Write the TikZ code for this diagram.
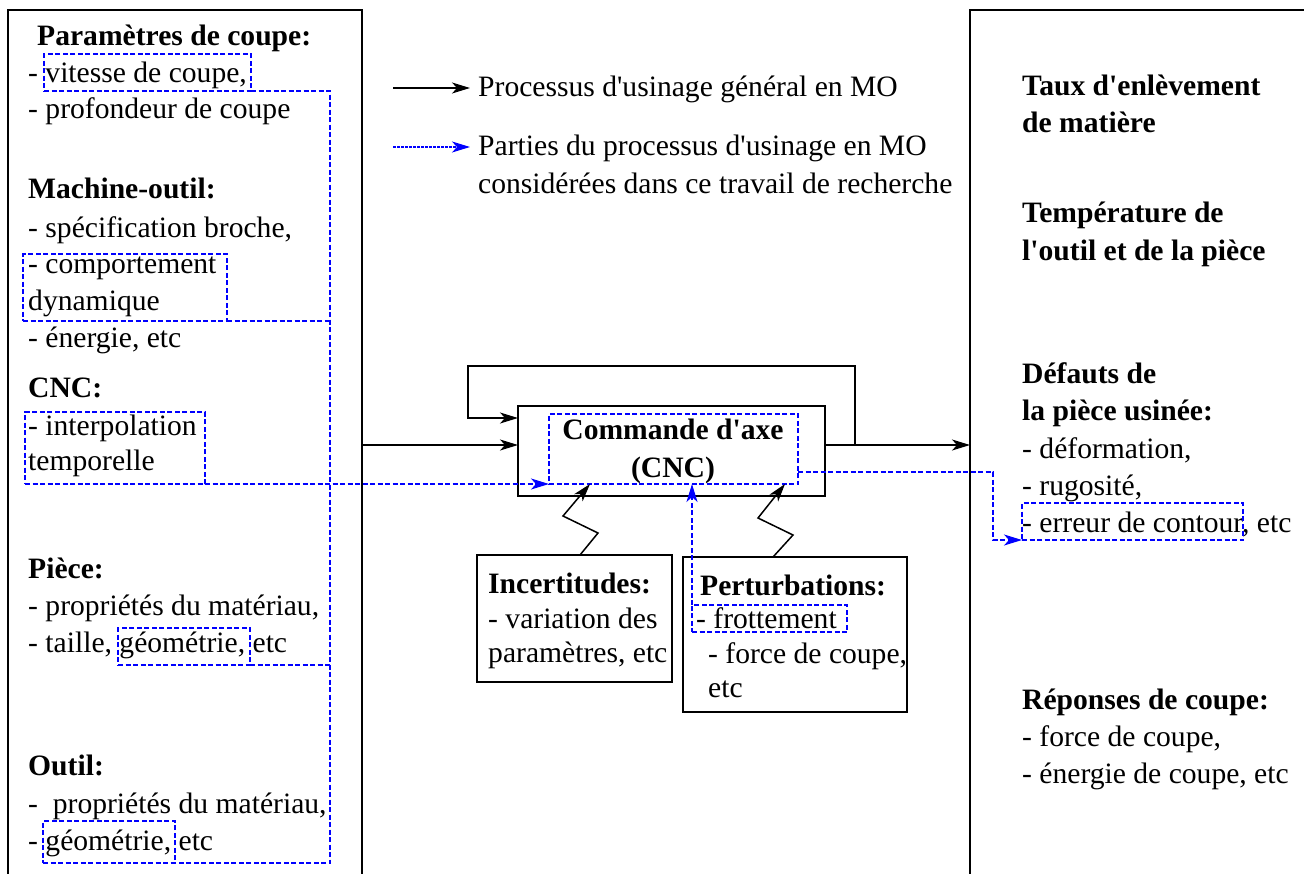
\documentclass[tikz,border=0pt]{standalone}
\usepackage{fontspec}
\setmainfont{Liberation Serif}
\usetikzlibrary{arrows.meta}
\newcommand{\fsz}{\fontsize{29.6}{37}\selectfont}
\newcommand{\aq}{\textquotesingle}
\begin{document}
\begin{tikzpicture}[x=1pt,y=-1pt,
  txt/.style={anchor=base west,inner sep=0pt,font=\fsz},
  btxt/.style={anchor=base west,inner sep=0pt,font=\fsz\bfseries},
  frame/.style={draw=black,line width=2pt,inner sep=0pt,outer sep=0pt,anchor=north west},
  conn/.style={draw=black,line width=1.5pt},
  arr/.style={-{Stealth[length=18pt,width=11pt,inset=5pt]}},
  bdash/.style={draw=blue,line width=1.8pt,dash pattern=on 5pt off 2.5pt},
  bbox/.style={bdash,inner sep=0pt,outer sep=0pt,anchor=north west},
]
\useasboundingbox (0,0) rectangle (1304,873);
\clip (0,0) rectangle (1304,873);

% big frames
\node[frame,minimum width=354pt,minimum height=900pt] (lb) at (8,10) {};
\node[frame,minimum width=400pt,minimum height=900pt] (rb) at (970,10) {};

% left column text
\node[btxt] (p0) at (37,45) {Paramètres de coupe:};
\node[txt] (p1) at (28,82) {- vitesse de coupe,};
\node[txt] (p2) at (28,118) {- profondeur de coupe};
\node[btxt] (m0) at (28,198) {Machine-outil:};
\node[txt] (m1) at (28,237) {- spécification broche,};
\node[txt] (m2) at (28,273) {- comportement};
\node[txt] (m3) at (28,310) {dynamique};
\node[txt] (m4) at (28,347) {- énergie, etc};
\node[btxt] (c0) at (28,397) {CNC:};
\node[txt] (c1) at (28,435) {- interpolation};
\node[txt] (c2) at (28,470) {temporelle};
\node[btxt] (pi0) at (28,578) {Pièce:};
\node[txt] (pi1) at (28,615) {- propriétés du matériau,};
\node[txt] (pi2) at (28,652) {- taille, géométrie, etc};
\node[btxt] (o0) at (28,775) {Outil:};
\node[txt] (o1) at (28,813) {-\ \ propriétés du matériau,};
\node[txt] (o2) at (28,850) {- géométrie, etc};

% legend
\coordinate (la1) at (393,88);
\coordinate (la2) at (470,88);
\coordinate (lb1) at (393,147);
\coordinate (lb2) at (470,147);
\draw[conn,arr] (la1) -- (la2);
\draw[draw=blue,line width=1.3pt,dash pattern=on 2.5pt off 1.5pt,arr] (lb1) -- (lb2);
\node[txt] (lt1) at (478,96) {Processus d\aq usinage général en MO};
\node[txt] (lt2) at (478,155) {Parties du processus d\aq usinage en MO};
\node[txt] (lt3) at (478,193) {considérées dans ce travail de recherche};

% right column text
\node[btxt] (r1) at (1022,95) {Taux d\aq enlèvement};
\node[btxt] (r2) at (1022,132) {de matière};
\node[btxt] (r3) at (1022,222) {Température de};
\node[btxt] (r4) at (1022,260) {l\aq outil et de la pièce};
\node[btxt] (r5) at (1022,383) {Défauts de};
\node[btxt] (r6) at (1022,420) {la pièce usinée:};
\node[txt] (r7) at (1022,458) {- déformation,};
\node[txt] (r8) at (1022,495) {- rugosité,};
\node[txt] (r9) at (1022,532) {- erreur de contour, etc};
\node[btxt] (r10) at (1022,709) {Réponses de coupe:};
\node[txt] (r11) at (1022,746) {- force de coupe,};
\node[txt] (r12) at (1022,783) {- énergie de coupe, etc};

% central block
\node[frame,minimum width=307pt,minimum height=90pt] (cb) at (518,406) {};
\node[bbox,minimum width=249pt,minimum height=70pt] (ib) at (549,414) {};
\node[btxt,anchor=base] (ct1) at (673,439) {Commande d\aq axe};
\node[btxt,anchor=base] (ct2) at (673,477) {(CNC)};

% lower boxes
\node[frame,minimum width=195pt,minimum height=127pt] (inc) at (477,555) {};
\node[btxt] (i0) at (488,593) {Incertitudes:};
\node[txt] (i1) at (488,628) {- variation des};
\node[txt] (i2) at (488,662) {paramètres, etc};
\node[frame,minimum width=224pt,minimum height=155pt] (pb) at (683,557) {};
\node[btxt] (q0) at (700,595) {Perturbations:};
\node[txt] (q1) at (696,628) {- frottement};
\node[txt] (q2) at (708,663) {- force de coupe,};
\node[txt] (q3) at (708,697) {etc};

% blue dotted boxes
\node[bbox,minimum width=207pt,minimum height=37pt] (b1) at (44,54) {};
\node[bbox,minimum width=204pt,minimum height=67pt] (b2) at (23,254) {};
\node[bbox,minimum width=180pt,minimum height=72pt] (b3) at (25,412) {};
\node[bbox,minimum width=132pt,minimum height=37pt] (b4) at (118,628) {};
\node[bbox,minimum width=132pt,minimum height=42pt] (b5) at (43,821) {};
\node[bbox,minimum width=155pt,minimum height=27pt] (fb) at (692,605) {};
\node[bbox,minimum width=221pt,minimum height=37pt] (eb) at (1022,503) {};

% black connectors
\coordinate (yin) at (0,445);
\coordinate (yfb) at (0,418);
\coordinate (k0) at (855,445);
\coordinate (k1) at (855,366);
\coordinate (k2) at (468,366);
\coordinate (k3) at (468,418);
\draw[conn,arr] (lb.north east |- yin) -- (cb.west |- yin);
\draw[conn,arr] (cb.east |- yin) -- (rb.north west |- yin);
\draw[conn,arr] (k0) -- (k1) -- (k2) -- (k3) -- (cb.west |- yfb);

% zigzags
\coordinate (za0) at (580,555);
\coordinate (za1) at (598,533);
\coordinate (za2) at (563,516);
\coordinate (za3) at (590,484);
\coordinate (zb0) at (773,557);
\coordinate (zb1) at (793,535);
\coordinate (zb2) at (758,518);
\coordinate (zb3) at (785,484);
\draw[conn,arr,line join=miter] (za0) -- (za1) -- (za2) -- (za3);
\draw[conn,arr,line join=miter] (zb0) -- (zb1) -- (zb2) -- (zb3);

% blue connectors
\coordinate (bus0) at (330,91);
\coordinate (bus1) at (330,863);
\draw[bdash] (b1.south east) -- (bus0) -- (bus1) -- (b5.south east);
\draw[bdash] (b2.south east) -- (b2.south east -| bus0);
\draw[bdash] (b4.south east) -- (b4.south east -| bus0);
\draw[bdash,arr] (b3.south east) -- (ib.south west);
\draw[bdash,arr] (fb.north west) -- (fb.north west |- ib.south);
\coordinate (e0) at (798,472);
\coordinate (e1) at (993,472);
\draw[bdash,arr] (e0) -- (e1) -- (e1 |- eb.south west) -- (eb.south west);
\end{tikzpicture}
\end{document}
